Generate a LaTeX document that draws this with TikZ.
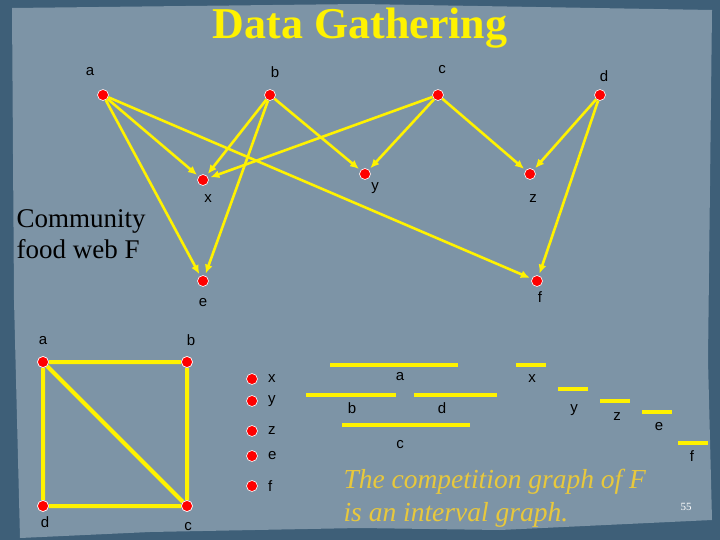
\documentclass[tikz,border=0pt]{standalone}
\usepackage{fontspec}
\setmainfont{Liberation Serif}
\setsansfont{Liberation Sans}
\begin{document}
\begin{tikzpicture}[x=1pt,y=-1pt,
  vert/.style={circle,fill=red,draw=white,line width=0.6pt,inner sep=0pt,minimum size=11pt},
  lbl/.style={font=\sffamily\fontsize{15}{15}\selectfont,text=black,inner sep=0pt},
  arc/.style={draw=yellow,line width=2.6pt,-{Latex[length=9pt,width=8pt]},shorten >=2pt},
  edge/.style={draw=yellow,line width=4pt},
  ival/.style={draw=yellow,line width=4pt}]
\usetikzlibrary{arrows.meta}
\useasboundingbox (0,0) rectangle (720,540);
\fill[fill={rgb,255:red,62;green,95;blue,120}] (0,0) rectangle (720,540);
\fill[fill={rgb,255:red,125;green,148;blue,166}] (12,8) -- (360,4) -- (712,10) -- (708,360) -- (712,520) -- (500,530) -- (360,528) -- (150,532) -- (20,538) -- (14,300) -- cycle;
\node[font=\bfseries\fontsize{44}{44}\selectfont,text=yellow] (title) at (360,28) {Data Gathering};
\node[font=\fontsize{27}{31}\selectfont,align=left,anchor=west,text=black] (cw) at (13,234) {Community\\food web F};
% food web
\node[vert] (a) at (103,95) {}; \node[vert] (b) at (270,95) {};
\node[vert] (c) at (438,95) {}; \node[vert] (d) at (600,95) {};
\node[vert] (x) at (203,180) {}; \node[vert] (y) at (365,174) {};
\node[vert] (z) at (530,174) {}; \node[vert] (e) at (203,281) {};
\node[vert] (f) at (537,281) {};
\node[lbl] (la) at (90,72) {a}; \node[lbl] (lb) at (275,72) {b};
\node[lbl] (lc) at (442,70) {c}; \node[lbl] (ld) at (604,76) {d};
\node[lbl] (lx) at (208,199) {x}; \node[lbl] (ly) at (375,188) {y};
\node[lbl] (lz) at (533,199) {z}; \node[lbl] (le) at (203,303) {e};
\node[lbl] (lf) at (540,297) {f};
\foreach \s/\t in {a/x,a/e,a/f,b/x,b/e,b/y,c/x,c/y,c/z,d/z,d/f}
  \draw[arc] (\s) -- (\t);
% competition graph
\node[vert] (ga) at (43,362) {}; \node[vert] (gb) at (187,362) {};
\node[vert] (gd) at (43,506) {}; \node[vert] (gc) at (187,506) {};
\draw[edge] (ga) -- (gb) -- (gc) -- (gd) -- (ga) -- (gc);
\foreach \n in {ga,gb,gc,gd} \node[vert] at (\n) {};
\node[lbl] (lga) at (43,341) {a}; \node[lbl] (lgb) at (191,340) {b};
\node[lbl] (lgd) at (45,522) {d}; \node[lbl] (lgc) at (188,527) {c};
\foreach \n/\yy in {x/379,y/401,z/431,e/456,f/486} {
  \node[vert] (i\n) at (252,\yy) {};
  \node[lbl,anchor=west] (li\n) at (268,\yy) {\n};
}
% intervals
\foreach \n/\xa/\xb/\yy/\lx/\ly in {a/330/458/365/400/377, b/306/396/395/352/408, d/414/497/395/442/408, c/342/470/425/400/445,
  x/516/546/365/532/379, y/558/588/389/574/410, z/600/630/401/617/417, e/642/672/412/659/427, f/678/708/443/692/456} {
  \coordinate (s\n) at (\xa,\yy); \coordinate (t\n) at (\xb,\yy);
  \draw[ival] (s\n) -- (t\n);
  \node[lbl] (l\n) at (\lx,\ly) {\n};
}
\node[font=\itshape\fontsize{27.5}{33}\selectfont,text={rgb,255:red,232;green,200;blue,60},align=left,anchor=north west] (txt) at (340,466) {The competition graph of F\\is an interval graph.};
\node[font=\fontsize{11}{11}\selectfont,text=white] (pg) at (686,507) {55};
\end{tikzpicture}
\end{document}
